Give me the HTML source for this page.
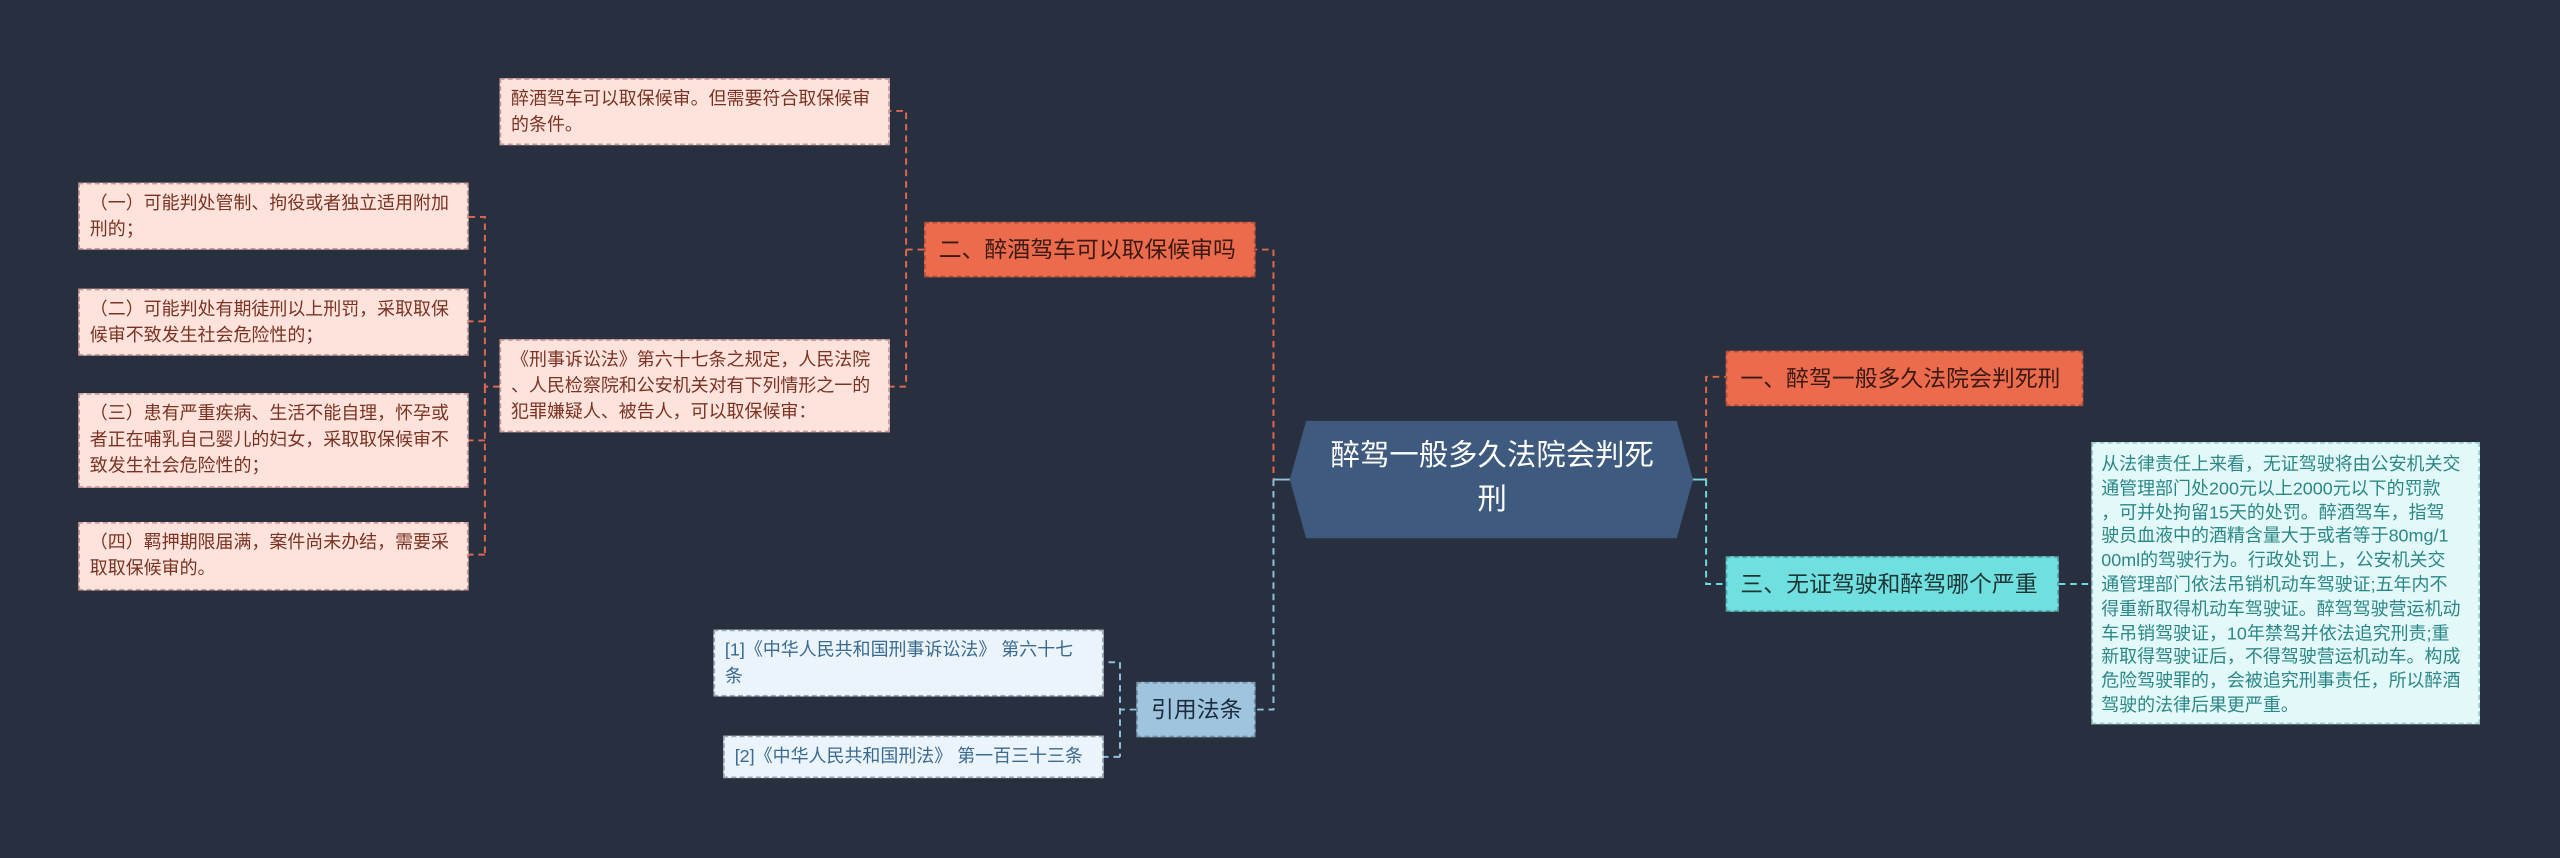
<!DOCTYPE html>
<html><head><meta charset="utf-8"><style>
html,body{margin:0;padding:0;background:#282f3e;width:2560px;height:858px;overflow:hidden}
#w{position:absolute;left:0;top:0;width:1568px;height:526px;transform:scale(1.63265,1.6312);transform-origin:0 0;font-family:"Liberation Sans","Noto Sans CJK SC",sans-serif}
.b{position:absolute;box-sizing:border-box;border:1px dashed rgba(0,0,0,0.25);white-space:nowrap}
.br{background:#ed6b4d;color:#3a1a12;font-size:14px;display:flex;align-items:center;padding:0 8px}
.lf{background:#fde3dc;color:#7a3322;font-size:11px;line-height:16px;padding:4px 6px;border-color:#c99}
.rf{background:#eaf4fa;color:#3a6a90;font-size:11px;line-height:16px;padding:4px 6px;border-color:#9ab}
</style></head><body><div id="w">
<svg width="1568" height="526" style="position:absolute;left:0;top:0" fill="none" stroke-width="1.2">
<g stroke="#e0694d" stroke-dasharray="4,3">
<path d="M790 294 H780 V153 H769"/>
<path d="M566 153 H555 V68 H545 M555 153 V237 H545"/>
<path d="M306 237 H297 V133 H287 M297 197 H287 M297 270 H287 M297 340 H287 M297 237 V340"/>
<path d="M1035 294 H1045 V231 H1057"/>
</g>
<g stroke="#8ec0e0" stroke-dasharray="4,3">
<path d="M780 294 V435 H769"/>
<path d="M696 435 H686 V406 H676 M686 464 H676 M686 406 V464"/>
</g>
<g stroke="#6fdde0" stroke-dasharray="4,3">
<path d="M1045 294 V358 H1057"/>
<path d="M1261 358 H1281"/>
</g>
<path d="M780 294 H790" stroke="#8ec0e0"/>
<path d="M1035 294 H1045" stroke="#6fdde0"/>
<polygon points="800,258 1027,258 1037,294 1027,330 800,330 790,294" fill="#3e5a7f" stroke="none"/>
</svg>
<div style="position:absolute;left:800px;top:266px;width:228px;text-align:center;color:#fff;font-size:18px;line-height:27px">醉驾一般多久法院会判死<br>刑</div>
<div class="b br" style="left:1057px;top:215px;width:219px;height:34px">一、醉驾一般多久法院会判死刑</div>
<div class="b br" style="left:1057px;top:341px;width:204px;height:34px;background:#70dfe0;color:#1d3535">三、无证驾驶和醉驾哪个严重</div>
<div class="b" style="left:1281px;top:271px;width:238px;height:173px;background:#e3f8f8;color:#2b8787;font-size:11px;line-height:14.8px;padding:6px 5px;border-color:#9cc;overflow:hidden">从法律责任上来看，无证驾驶将由公安机关交<br>通管理部门处200元以上2000元以下的罚款<br>，可并处拘留15天的处罚。醉酒驾车，指驾<br>驶员血液中的酒精含量大于或者等于80mg/1<br>00ml的驾驶行为。行政处罚上，公安机关交<br>通管理部门依法吊销机动车驾驶证;五年内不<br>得重新取得机动车驾驶证。醉驾驾驶营运机动<br>车吊销驾驶证，10年禁驾并依法追究刑责;重<br>新取得驾驶证后，不得驾驶营运机动车。构成<br>危险驾驶罪的，会被追究刑事责任，所以醉酒<br>驾驶的法律后果更严重。</div>
<div class="b br" style="left:566px;top:136px;width:203px;height:34px">二、醉酒驾车可以取保候审吗</div>
<div class="b lf" style="left:306px;top:48px;width:239px;height:41px">醉酒驾车可以取保候审。但需要符合取保候审<br>的条件。</div>
<div class="b lf" style="left:306px;top:208px;width:239px;height:57px">《刑事诉讼法》第六十七条之规定，人民法院<br>、人民检察院和公安机关对有下列情形之一的<br>犯罪嫌疑人、被告人，可以取保候审：</div>
<div class="b lf" style="left:48px;top:112px;width:239px;height:41px">（一）可能判处管制、拘役或者独立适用附加<br>刑的；</div>
<div class="b lf" style="left:48px;top:177px;width:239px;height:41px">（二）可能判处有期徒刑以上刑罚，采取取保<br>候审不致发生社会危险性的；</div>
<div class="b lf" style="left:48px;top:241px;width:239px;height:58px">（三）患有严重疾病、生活不能自理，怀孕或<br>者正在哺乳自己婴儿的妇女，采取取保候审不<br>致发生社会危险性的；</div>
<div class="b lf" style="left:48px;top:320px;width:239px;height:42px">（四）羁押期限届满，案件尚未办结，需要采<br>取取保候审的。</div>
<div class="b br" style="left:696px;top:418px;width:73px;height:34px;background:#9fc5de;color:#1d2d3d">引用法条</div>
<div class="b rf" style="left:437px;top:386px;width:239px;height:41px">[1]《中华人民共和国刑事诉讼法》 第六十七<br>条</div>
<div class="b rf" style="left:443px;top:451px;width:233px;height:26px">[2]《中华人民共和国刑法》 第一百三十三条</div>
</div></body></html>
